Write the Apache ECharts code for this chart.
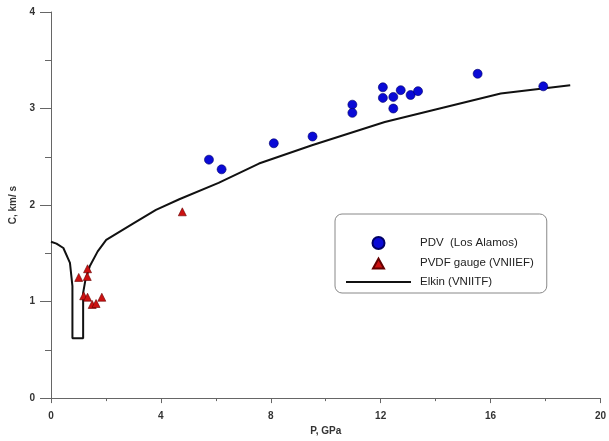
<!DOCTYPE html>
<html>
<head>
  <meta charset="UTF-8">
  <title>C vs P</title>
  <style>
    *{ margin: 0; padding: 0; }
    body{ background: #ffffff; }
    #chart{ width: 609px; height: 441px; }
  </style>
</head>
<body>
<div id="chart"></div>
<script src="https://cdn.jsdelivr.net/npm/echarts@6/dist/echarts.min.js"></script>
<script>
  // PDV (Los Alamos)
  var pdvP = [5.75, 6.21, 8.11, 9.52, 10.97, 10.97, 12.08, 12.08, 12.46, 12.46, 12.73, 13.09, 13.36, 15.53, 17.92];
  var pdvC = [2.47, 2.37, 2.64, 2.71, 3.04, 2.955, 3.22, 3.11, 3.12, 3.0, 3.19, 3.14, 3.18, 3.36, 3.23];
  // PVDF gauge (VNIIEF)
  var pvdfP = [1.01, 1.33, 1.32, 1.19, 1.33, 1.5, 1.64, 1.85, 4.78];
  var pvdfC = [1.25, 1.34, 1.26, 1.06, 1.045, 0.97, 0.98, 1.045, 1.93];
  // Elkin (VNIITF)
  var elkinP = [0, 0.2, 0.45, 0.69, 0.78, 0.78, 1.17, 1.17, 1.25, 1.41, 1.7, 2.01, 3.0, 3.82, 4.67, 6.1, 7.57, 9.5, 12.15, 14, 16.37, 18.9];
  var elkinC = [1.62, 1.60, 1.555, 1.40, 1.16, 0.62, 0.62, 1.09, 1.22, 1.365, 1.52, 1.64, 1.81, 1.95, 2.06, 2.23, 2.43, 2.62, 2.86, 2.99, 3.155, 3.24];

  var seriesNames = ['PDV  (Los Alamos)', 'PVDF gauge (VNIIEF)', 'Elkin (VNIITF)'];

  function pairs(xs, ys) {
    return xs.map(function (x, i) { return [x, ys[i]]; });
  }

  // legend icons: the leading moves fix the box to 65x12 so nothing gets stretched
  var triIcon = 'path://M0,0 M65,12 M27,11.5 L32.5,1.5 L38,11.5 Z';
  var lineIcon = 'path://M0,0 M65,12 M0,5 L65,5 L65,7 L0,7 Z';

  var axisFont = { color: '#333', fontSize: 10, fontWeight: 'bold', fontFamily: 'Liberation Sans, Arial' };

  var myChart = echarts.init(document.getElementById('chart'), null, { renderer: 'canvas' });
  var option = {
    animation: false,
    backgroundColor: '#ffffff',
    grid: { left: 51, right: 5, top: 12, bottom: 41, containLabel: false },
    legend: {
      orient: 'vertical',
      left: 335,
      top: 214,
      data: [
        { name: seriesNames[0], icon: 'circle' },
        { name: seriesNames[1], icon: triIcon },
        { name: seriesNames[2], icon: lineIcon, itemStyle: { color: '#111', borderWidth: 0 } }
      ],
      itemWidth: 65,
      itemHeight: 12,
      itemGap: 6,
      padding: [22, 13, 5, 10],
      borderColor: '#888',
      borderWidth: 1,
      borderRadius: 7,
      backgroundColor: '#fff',
      textStyle: { color: '#222', fontSize: 11.5, fontFamily: 'Liberation Sans, Arial', padding: [0, 0, 0, 4] }
    },
    xAxis: {
      type: 'value',
      min: 0, max: 20, interval: 4,
      name: 'P, GPa',
      nameLocation: 'middle',
      nameGap: 27,
      nameTextStyle: axisFont,
      axisLine: { onZero: false, lineStyle: { color: '#666', width: 1 } },
      axisTick: { length: 5, lineStyle: { color: '#666' } },
      minorTick: { show: true, splitNumber: 2, length: 3, lineStyle: { color: '#666' } },
      axisLabel: Object.assign({ margin: 13 }, axisFont),
      splitLine: { show: false }
    },
    yAxis: {
      type: 'value',
      min: 0, max: 4, interval: 1,
      name: 'C, km/ s',
      nameLocation: 'middle',
      nameGap: 28,
      nameTextStyle: axisFont,
      axisLine: { show: true, onZero: false, lineStyle: { color: '#666', width: 1 } },
      axisTick: { show: true, length: 11, lineStyle: { color: '#666' } },
      minorTick: { show: true, splitNumber: 2, length: 6, lineStyle: { color: '#666' } },
      axisLabel: Object.assign({ margin: 16 }, axisFont),
      splitLine: { show: false }
    },
    series: [
      {
        name: seriesNames[2],
        type: 'line',
        data: pairs(elkinP, elkinC),
        symbol: 'none',
        smooth: false,
        lineStyle: { color: '#111', width: 2 },
        itemStyle: { color: '#111' },
        z: 1
      },
      {
        name: seriesNames[0],
        type: 'scatter',
        data: pairs(pdvP, pdvC),
        symbol: 'circle',
        symbolSize: 9,
        itemStyle: { color: '#0a0ad6', borderColor: '#000066', borderWidth: 0.6, opacity: 1 },
        z: 3
      },
      {
        name: seriesNames[1],
        type: 'scatter',
        data: pairs(pvdfP, pvdfC),
        symbol: 'triangle',
        symbolSize: 8,
        itemStyle: { color: '#cc1111', borderColor: '#660000', borderWidth: 0.6, opacity: 1 },
        z: 3
      }
    ]
  };
  myChart.setOption(option);
</script>
</body>
</html>
